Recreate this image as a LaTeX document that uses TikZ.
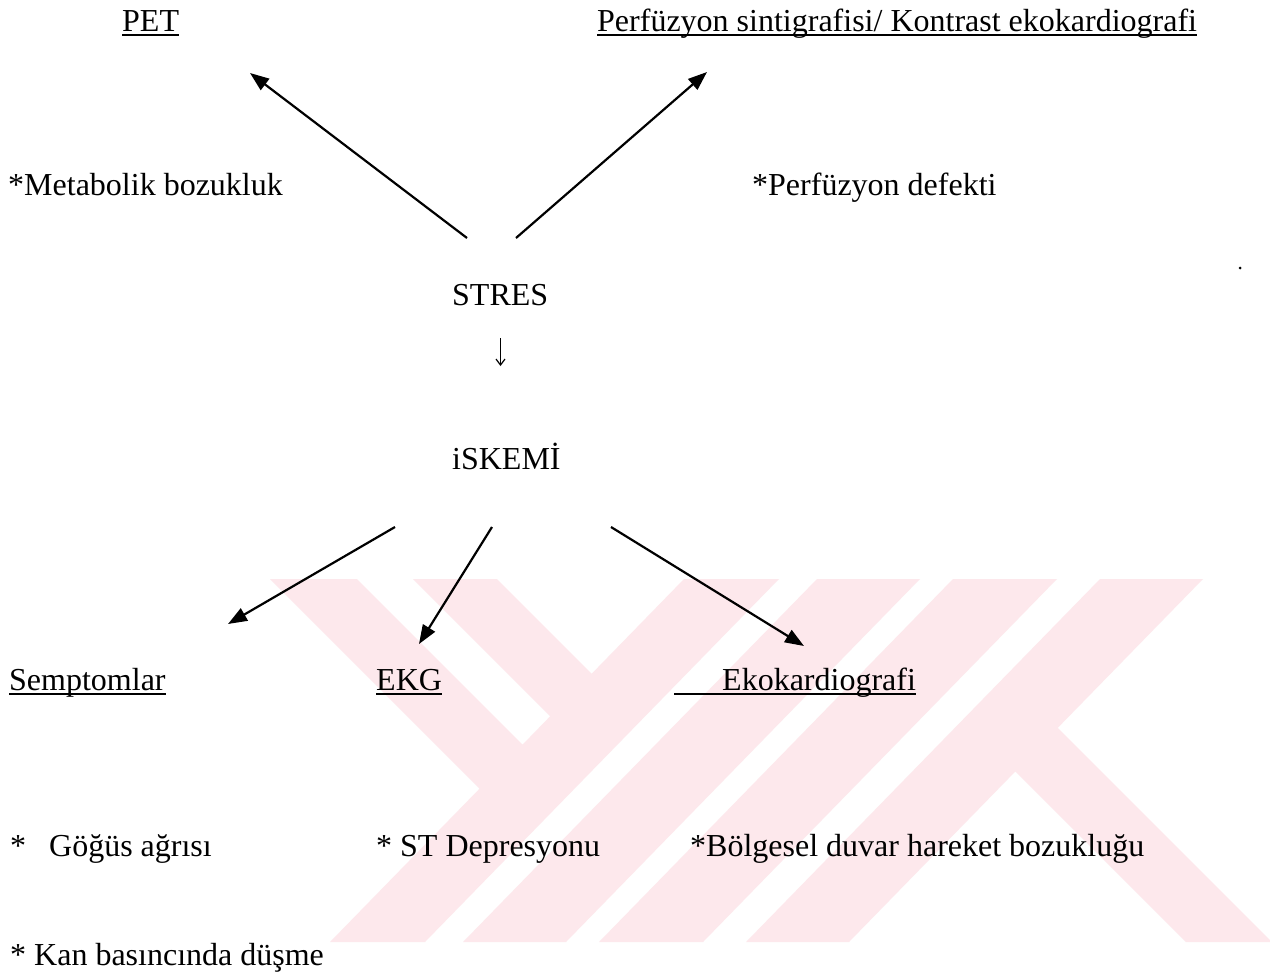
\documentclass[tikz,border=0pt]{standalone}
\usepackage{fontspec}
\setmainfont{Liberation Serif}
\usetikzlibrary{arrows.meta}
\definecolor{wm}{RGB}{253,232,236}
\begin{document}
\begin{tikzpicture}[x=1pt,y=-1pt,
  lbl/.style={anchor=base west, inner sep=0pt, font=\fontsize{32}{38}\selectfont},
  arr/.style={line width=2.2pt, -{Triangle[length=19pt,width=14pt]}},
  small arr/.style={line width=1.2pt, -{Straight Barb[length=6pt,width=9pt]}},
  ul/.style={line width=1.6pt},
  wmark/.style={fill=wm, draw=none}]
\fill[white] (0,0) rectangle (1270,978);
\useasboundingbox (0,0) rectangle (1270,978);
% watermark
\fill[wmark] (270,579) -- (357,579) -- (522.6,744.6) -- (550.2,716.2) -- (413,579) -- (497,579)
  -- (591.7,673.7) -- (684,579) -- (779,579) -- (425,942) -- (330,942) -- (479.6,788.6) -- cycle;
\fill[wmark] (817,579) -- (920,579) -- (566,942) -- (463,942) -- cycle;
\fill[wmark] (953,579) -- (1057,579) -- (703,942) -- (599,942) -- cycle;
\fill[wmark] (1100,579) -- (1203,579) -- (1057.8,727.8) -- (1270,940) -- (1270,942) -- (1186,942)
  -- (1015.4,771.4) -- (849,942) -- (746,942) -- cycle;
% texts
\node[lbl] (pet) at (122,31) {PET};
\node[lbl] (perf) at (597,31) {Perfüzyon sintigrafisi/ Kontrast ekokardiografi};
\node[lbl] (meta) at (8,195) {*Metabolik bozukluk};
\node[lbl] (pdef) at (752,195) {*Perfüzyon defekti};
\node[lbl] (stres) at (452,305) {STRES};
\node[lbl] (iskemi) at (452,469) {iSKEMİ};
\node[lbl] (semp) at (9,690) {Semptomlar};
\node[lbl] (ekg) at (376,690) {EKG};
\node[lbl] (eko) at (722,690) {Ekokardiografi};
\node[lbl] (gogus) at (10,856) {*\hspace{23pt}Göğüs ağrısı};
\node[lbl] (stdep) at (376,856) {* ST Depresyonu};
\node[lbl] (bolg) at (690,856) {*Bölgesel duvar hareket bozukluğu};
\node[lbl] (kan) at (10,965) {* Kan basıncında düşme};
% underlines
\draw[ul] ([yshift=-4pt]pet.base west) -- ([yshift=-4pt]pet.base east);
\draw[ul] ([yshift=-4pt]perf.base west) -- ([yshift=-4pt]perf.base east);
\draw[ul] ([yshift=-4pt]semp.base west) -- ([yshift=-4pt]semp.base east);
\draw[ul] ([yshift=-4pt]ekg.base west) -- ([yshift=-4pt]ekg.base east);
\draw[ul] ([xshift=-48pt,yshift=-4pt]eko.base west) -- ([yshift=-4pt]eko.base east);
% connector end points
\coordinate (a1s) at (467,238); \coordinate (a1e) at (250,73);
\coordinate (a2s) at (516,238); \coordinate (a2e) at (707,72);
\coordinate (d1) at (500.5,338); \coordinate (d2) at (500.5,366);
\coordinate (b1s) at (395,527); \coordinate (b1e) at (228,624);
\coordinate (b2s) at (492,527); \coordinate (b2e) at (419,644);
\coordinate (b3s) at (611,527); \coordinate (b3e) at (804,646);
% connectors
\draw[arr] (a1s) -- (a1e);
\draw[arr] (a2s) -- (a2e);
\draw[small arr] (d1) -- (d2);
\draw[arr] (b1s) -- (b1e);
\draw[arr] (b2s) -- (b2e);
\draw[arr] (b3s) -- (b3e);
% stray mark
\fill (1240,268) circle (1.5);
\end{tikzpicture}
\end{document}
